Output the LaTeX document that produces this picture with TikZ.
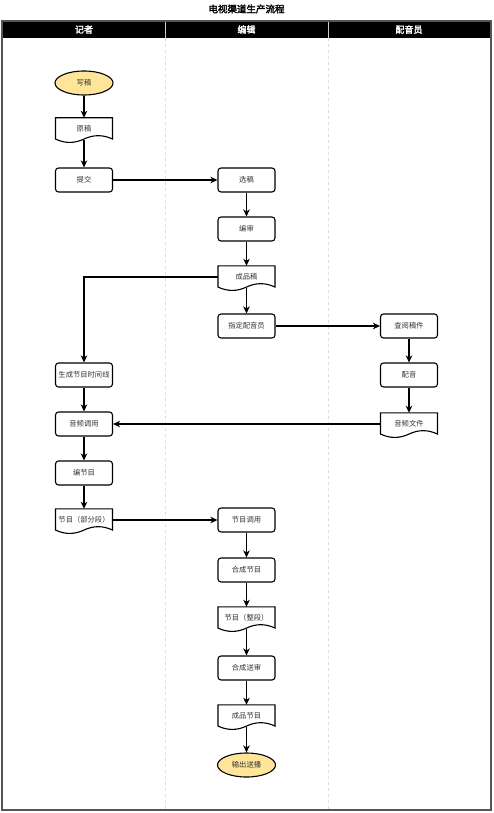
\documentclass[tikz,border=0pt]{standalone}
\usepackage{fontspec}
\setmainfont{Noto Sans CJK SC}[AutoFakeBold=2.5]
\usetikzlibrary{arrows.meta,shapes.geometric}
\definecolor{startfill}{HTML}{FFE599}
\definecolor{txt}{HTML}{333333}
\definecolor{lanedash}{HTML}{DDDDDD}
\definecolor{framecol}{HTML}{555555}

\newcommand\docnode[4]{%
  \node[docbox] (#1) at (#2,#3+11) {#4};
  \begin{scope}[shift={(#1.north)}]
    \draw[docline] (-28.5,0) -- (28.5,0) -- (28.5,21.25)
      .. controls (19,16.75) and (9.5,16.75) .. (0,21.25)
      .. controls (-9.5,25.75) and (-19,25.75) .. (-28.5,21.25) -- cycle;
  \end{scope}
}

\begin{document}
\begin{tikzpicture}[x=1pt,y=-1pt,
  nodefont/.style={font=\fontsize{7.3}{8}\selectfont, text=txt},
  box/.style={rectangle, draw, rounded corners=3pt, line width=1.1pt,
    minimum width=57pt, minimum height=24pt, inner sep=0pt, nodefont},
  term/.style={ellipse, draw, fill=startfill, line width=1.1pt,
    minimum width=58pt, minimum height=24pt, inner sep=0pt, nodefont},
  docbox/.style={rectangle, minimum width=57pt, minimum height=22pt, inner sep=0pt, nodefont},
  docline/.style={line width=1.1pt},
  flow/.style={line width=1.1pt, -{Stealth[length=7pt,width=6.5pt,inset=2pt]}},
  lanehead/.style={text=white, font=\bfseries\fontsize{9}{10}\selectfont}]
\useasboundingbox (0,0) rectangle (493,813);

% title
\node[font=\bfseries\fontsize{9.5}{10}\selectfont] (title) at (246.5,9) {电视渠道生产流程};

% swimlanes
\fill[black] (2,21) rectangle (491,38);
\draw[dashed, lanedash, line width=0.8pt] (165,38) -- (165,810);
\draw[dashed, lanedash, line width=0.8pt] (328,38) -- (328,810);
\draw[gray!40, line width=1pt] (165,21) -- (165,38);
\draw[gray!40, line width=1pt] (328,21) -- (328,38);
\draw[framecol, line width=1.3pt] (2,21) rectangle (491,810);
\node[lanehead] (h1) at (84,29.5) {记者};
\node[lanehead] (h2) at (246.5,29.5) {编辑};
\node[lanehead] (h3) at (409,29.5) {配音员};

% reporter lane
\node[term] (xg) at (84,83) {写稿};
\docnode{yg}{84}{118}{原稿}
\node[box] (tj) at (84,180) {提交};
\node[box] (scx) at (84,375) {生成节目时间线};
\node[box] (ypdy) at (84,424) {音频调用};
\node[box] (bjm) at (84,473) {编节目};
\docnode{jmb}{84}{509}{节目（部分段）}

% editor lane
\node[box] (xuan) at (246.5,180) {选稿};
\node[box] (bs) at (246.5,229) {编审};
\docnode{cpg}{246.5}{266}{成品稿}
\node[box] (zd) at (246.5,326) {指定配音员};
\node[box] (jmdy) at (246.5,520) {节目调用};
\node[box] (hcjm) at (246.5,570) {合成节目};
\docnode{jmz}{246.5}{607}{节目（整段）}
\node[box] (hcss) at (246.5,668) {合成送审};
\docnode{cpjm}{246.5}{705}{成品节目}
\node[term] (scb) at (246.5,765) {输出送播};

% voice lane
\node[box] (cy) at (409,326) {查阅稿件};
\node[box] (py) at (409,375) {配音};
\docnode{ypwj}{409}{413}{音频文件}

% connectors
\draw[flow] (xg) -- (yg);
\draw[flow] (yg.south) -- (tj);
\draw[flow] (tj) -- (xuan);
\draw[flow] (xuan) -- (bs);
\draw[flow] (bs) -- (cpg);
\draw[flow] (cpg.west) -| (scx.north);
\draw[flow] (cpg.south) -- (zd);
\draw[flow] (zd) -- (cy);
\draw[flow] (cy) -- (py);
\draw[flow] (py) -- (ypwj);
\draw[flow] (ypwj.west) -- (ypdy.east);
\draw[flow] (scx) -- (ypdy);
\draw[flow] (ypdy) -- (bjm);
\draw[flow] (bjm) -- (jmb);
\draw[flow] (jmb.east) -- (jmdy.west);
\draw[flow] (jmdy) -- (hcjm);
\draw[flow] (hcjm) -- (jmz);
\draw[flow] (jmz.south) -- (hcss);
\draw[flow] (hcss) -- (cpjm);
\draw[flow] (cpjm.south) -- (scb);
\end{tikzpicture}
\end{document}
